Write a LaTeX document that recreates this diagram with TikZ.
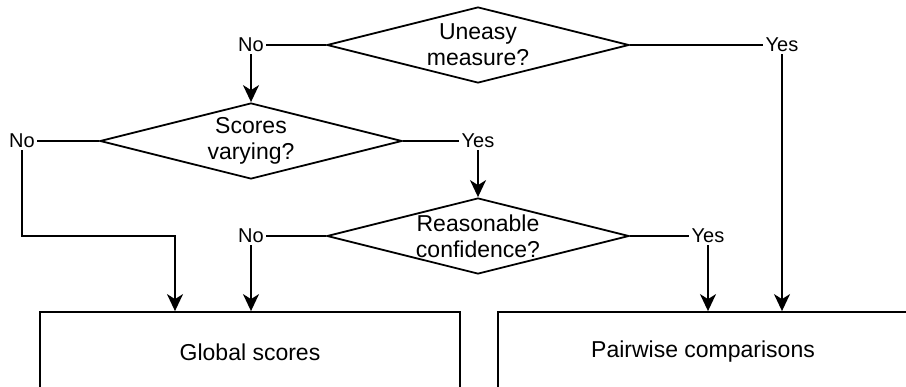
\documentclass[tikz,border=0pt]{standalone}
\usepackage{fontspec}
\setmainfont{Liberation Sans}
\usepackage{tikz}
\usetikzlibrary{shapes,arrows,positioning,calc,arrows.meta}

\begin{document}
\begin{tikzpicture}[x=1pt, y=-1pt, line width=1.8pt,
    decision/.style={diamond, draw, inner sep=0pt, minimum width=302pt, minimum height=76pt},
    question/.style={align=center, font=\fontsize{23}{26}\selectfont},
    answer/.style={inner sep=1.5pt, font=\fontsize{20}{23}\selectfont},
    outcome/.style={draw, minimum width=420pt, minimum height=80pt, font=\fontsize{23}{26}\selectfont},
    arr/.style={-{Stealth[length=17pt, width=16pt, inset=5pt]}}]
    \useasboundingbox (0,0) rectangle (906,387);
    \clip (0,0) rectangle (906,387);

    % Decisions
    \node[decision, label={[question]center:Uneasy\\measure?}] (uneasy) at (478,45) {};
    \node[decision, label={[question]center:Scores\\varying?}] (varying) at (251,141) {};
    \node[decision, label={[question]center:Reasonable\\confidence?}] (confidence) at (478,236) {};

    % Outcomes
    \node[outcome] (global) at (250,352) {Global scores};
    \node[outcome] (pairwise) at (708,352) {};
    \node[font=\fontsize{23}{26}\selectfont] (pairtext) at (703,352) {Pairwise comparisons};

    % Answers
    \node[answer] (no1) at (251,45) {No};
    \node[answer] (yes1) at (782,45) {Yes};
    \node[answer] (no2) at (22,141) {No};
    \node[answer] (yes2) at (478,141) {Yes};
    \node[answer] (no3) at (251,236) {No};
    \node[answer] (yes3) at (708,236) {Yes};
    \coordinate (bend) at (175,236);

    % Connectors
    \draw (uneasy.west) -- (no1.east);
    \draw (uneasy.east) -- (yes1.west);
    \draw[arr] (no1.south) -- (varying.north);
    \draw[arr] (yes1.south) -- (yes1.south |- pairwise.north);

    \draw (varying.west) -- (no2.east);
    \draw (varying.east) -- (yes2.west);
    \draw[arr] (no2.south) |- (bend) -- (bend |- global.north);
    \draw[arr] (yes2.south) -- (confidence.north);

    \draw (confidence.west) -- (no3.east);
    \draw (confidence.east) -- (yes3.west);
    \draw[arr] (no3.south) -- (global.north -| no3.south);
    \draw[arr] (yes3.south) -- (pairwise.north -| yes3.south);
\end{tikzpicture}
\end{document}
